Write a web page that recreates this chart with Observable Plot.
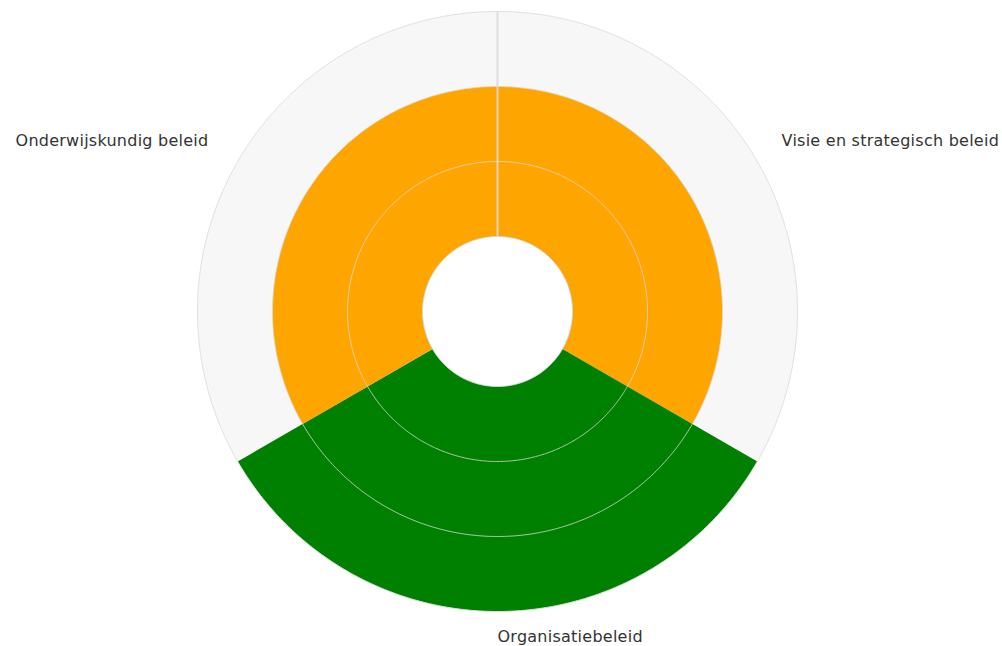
<!DOCTYPE html>
<html><head><meta charset="utf-8">
<script src="https://cdn.jsdelivr.net/npm/d3@7"></script>
<script src="https://cdn.jsdelivr.net/npm/@observablehq/plot@0.6"></script>
<style>
html,body{margin:0;padding:0;background:#fff}
#chart text{letter-spacing:0.25px}
</style>
</head><body><div id="chart"></div>
<script>
// ---- data ----
const categories = ["Visie en strategisch beleid", "Organisatiebeleid", "Onderwijskundig beleid"];
const values = [2, 3, 2];
const gridLevels = [1, 2];
const maxValue = 3;
const labelLevel = 3.373;

// ---- helpers ----
const DEG = 0.1;                       // angular degrees per value unit
const dist = v => (v + 1) * DEG;       // value 0 = inner hole edge
const lat = v => 90 - dist(v);
const n = categories.length;
const span = 360 / n;
const lon = theta => 180 - theta;      // compass angle -> longitude

function sectorGeom(i, v) {
  const t1 = i * span, t2 = (i + 1) * span;
  const steps = Math.ceil(t2 - t1);
  const pts = [];
  for (let k = 0; k <= steps; k++) pts.push([lon(t1 + (t2 - t1) * k / steps), lat(v)]);
  for (let k = steps; k >= 0; k--) pts.push([lon(t1 + (t2 - t1) * k / steps), lat(0)]);
  pts.push(pts[0]);
  let poly = {type: "Polygon", coordinates: [pts]};
  if (d3.geoArea(poly) > 2 * Math.PI) poly = {type: "Polygon", coordinates: [pts.slice().reverse()]};
  return poly;
}
const circle = v => d3.geoCircle().center([0, 90]).radius(dist(v)).precision(0.5)();

const sectors = categories.map((c, i) => ({category: c, value: values[i], geometry: sectorGeom(i, values[i])}));
const labels = categories.map((c, i) => {
  const mid = (i + 0.5) * span;
  const s = Math.sin(mid * Math.PI / 180);
  return {category: c, lon: lon(mid), side: s > 0.01 ? "right" : s < -0.01 ? "left" : "bottom"};
});
const labelMark = (side, opts) => Plot.text(labels, {
  filter: d => d.side === side, x: "lon", y: () => lat(labelLevel), text: "category",
  fill: "#333", fontSize: 16, ...opts
});

const chart = Plot.plot({
  width: 1002,
  height: 646,
  marginTop: 11,
  marginBottom: 35,
  marginLeft: 197,
  marginRight: 205,
  projection: {
    type: "azimuthal-equidistant",
    rotate: [0, -90],
    domain: circle(maxValue),
    clip: false
  },
  color: {type: "ordinal", domain: [2, 3], range: ["#FFA500", "#008000"]},
  style: {fontFamily: "DejaVu Sans", fontSize: "16px", background: "#fff"},
  marks: [
    Plot.geo([maxValue], {geometry: circle, fill: "#f7f7f7", stroke: "none"}),
    Plot.geo(sectors, {geometry: d => d.geometry, fill: d => d.value, stroke: "none"}),
    Plot.geo(gridLevels, {geometry: circle, fill: "none", stroke: "#d8d8d8", strokeOpacity: 0.8, strokeWidth: 1}),
    Plot.geo([0], {geometry: circle, fill: "#fff", stroke: "#d0d0d0", strokeWidth: 1}),
    Plot.link([0], {x1: lon(0), y1: lat(0), x2: lon(0), y2: lat(maxValue), stroke: "#d8d8d8", strokeOpacity: 0.85, strokeWidth: 2}),
    Plot.geo([maxValue], {geometry: circle, fill: "none", stroke: "#e0e0e0", strokeWidth: 1}),
    labelMark("right", {textAnchor: "start", dy: -7}),
    labelMark("left", {textAnchor: "end", dx: -5, dy: -7}),
    labelMark("bottom", {textAnchor: "start", dy: -3})
  ]
});
document.getElementById("chart").appendChild(chart);
</script>
</body></html>
